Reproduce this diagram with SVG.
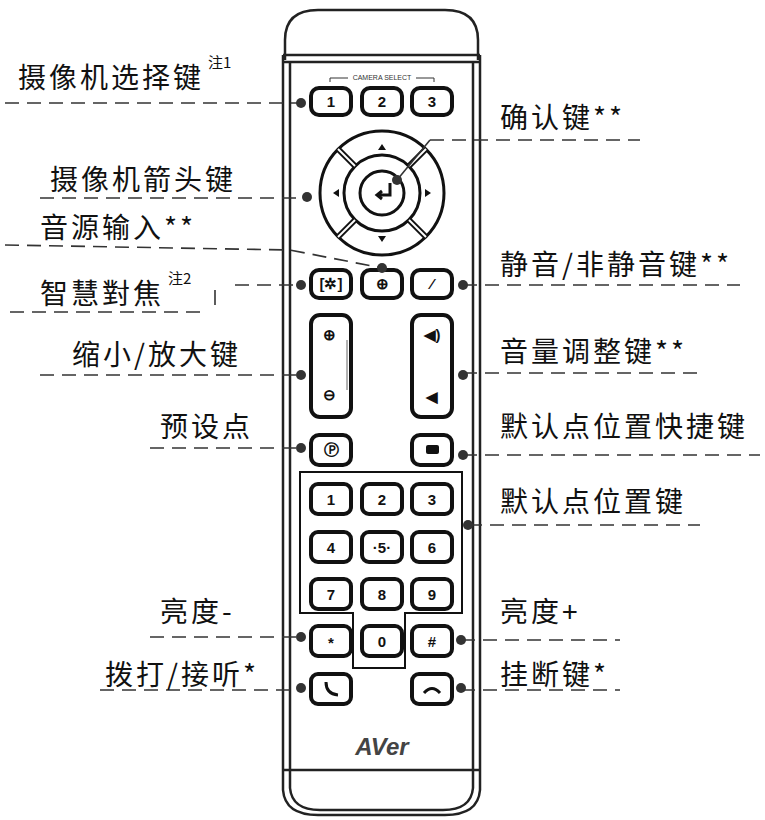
<svg xmlns="http://www.w3.org/2000/svg" width="765" height="820" viewBox="0 0 765 820">
<style>
.lb{font-family:"Noto Sans CJK SC","Noto Sans",sans-serif;font-size:28px;letter-spacing:3px;fill:#111}
.sup{font-family:"Noto Sans CJK SC","Liberation Serif",serif;font-size:15px;fill:#111}
.d{stroke:#333;stroke-width:1.6;stroke-dasharray:14 8;fill:none}
.dot{fill:#333}
.btn{fill:#fff;stroke:#111;stroke-width:4}
.bt{font-family:"Liberation Sans",sans-serif;font-size:15px;font-weight:bold;text-anchor:middle;fill:#111}
.body{fill:none;stroke:#222;stroke-width:2.5}
</style>
<rect width="765" height="820" fill="#fff"/>
<g id="remote">
<path class="body" d="M285 60 L285 40 Q285 10 318 10 L445 10 Q478 10 478 40 L478 60"/>
<path class="body" d="M283 55 L480 55 M283 62 L480 62"/>
<path class="body" d="M283 55 L283 770 M290 62 L290 770 M480 55 L480 770 M473 62 L473 770"/>
<path class="body" d="M283 770 L480 770 M283 770 L283 790 Q285 815 318 815 L445 815 Q478 815 480 790 L480 770 M290 770 L290 788 Q292 810 320 810 L443 810 Q471 810 473 788 L473 770"/>
<text x="382" y="80" font-family="Liberation Sans,sans-serif" font-size="7" text-anchor="middle" fill="#333">CAMERA SELECT</text>
<path d="M330 82 L330 78 L348 78 M416 78 L434 78 L434 82" stroke="#333" fill="none"/>
<text x="382" y="755" font-family="Liberation Sans,sans-serif" font-size="24" font-weight="bold" font-style="italic" text-anchor="middle" fill="#444">AVer</text>
</g>
<g id="buttons">
<rect class="btn" x="311" y="88" width="40" height="27" rx="8"/><text class="bt" x="331" y="107">1</text>
<rect class="btn" x="362" y="88" width="40" height="27" rx="8"/><text class="bt" x="382" y="107">2</text>
<rect class="btn" x="412" y="88" width="40" height="27" rx="8"/><text class="bt" x="432" y="107">3</text>
<circle cx="382" cy="193" r="62" fill="#fff" stroke="#111" stroke-width="3"/>
<circle cx="382" cy="193" r="38" fill="none" stroke="#111" stroke-width="3"/>
<circle cx="382" cy="193" r="22" fill="#fff" stroke="#111" stroke-width="3"/>
<g stroke="#111" stroke-width="6"><line x1="409" y1="166" x2="426" y2="149"/><line x1="355" y1="166" x2="338" y2="149"/><line x1="409" y1="220" x2="426" y2="237"/><line x1="355" y1="220" x2="338" y2="237"/></g>
<g stroke="#fff" stroke-width="2"><line x1="409" y1="166" x2="426" y2="149"/><line x1="355" y1="166" x2="338" y2="149"/><line x1="409" y1="220" x2="426" y2="237"/><line x1="355" y1="220" x2="338" y2="237"/></g>
<path d="M382 144 l-4 6 h8z M382 242 l-4 -6 h8z M333 193 l6 -4 v8z M431 193 l-6 -4 v8z" fill="#111"/>
<path d="M390 183 v12 h-12 M382 191 l-5 4 5 4" stroke="#111" stroke-width="3" fill="none"/>
<rect class="btn" x="311" y="270" width="40" height="28" rx="8"/><text class="bt" x="331" y="289" font-size="11">[✲]</text>
<rect class="btn" x="362" y="270" width="40" height="28" rx="8"/><text class="bt" x="382" y="289">⊕</text>
<rect class="btn" x="412" y="270" width="40" height="28" rx="8"/><text class="bt" x="432" y="289" font-size="12" fill="#555">⁄</text>
<rect class="btn" x="311" y="315" width="40" height="102" rx="9"/>
<text class="bt" x="329" y="340" font-size="11">⊕</text><text class="bt" x="329" y="400" font-size="11">⊖</text>
<line x1="347" y1="340" x2="347" y2="390" stroke="#666"/>
<rect class="btn" x="412" y="315" width="40" height="102" rx="9"/>
<text class="bt" x="432" y="340" font-size="11">◀)</text><text class="bt" x="432" y="402" font-size="11">◀</text>
<rect class="btn" x="311" y="435" width="40" height="30" rx="8"/><text class="bt" x="331" y="455" font-size="11" fill="#777">Ⓟ</text>
<rect class="btn" x="412" y="435" width="40" height="30" rx="8"/><rect x="426" y="445" width="13" height="9" rx="2" fill="#111"/>
<path d="M300 472 H462 V613 H405 V668 H353 V613 H300 Z" fill="none" stroke="#111" stroke-width="2"/>
<g>
<rect class="btn" x="311" y="484" width="40" height="30" rx="7"/><text class="bt" x="331" y="505">1</text>
<rect class="btn" x="362" y="484" width="40" height="30" rx="7"/><text class="bt" x="382" y="505">2</text>
<rect class="btn" x="412" y="484" width="40" height="30" rx="7"/><text class="bt" x="432" y="505">3</text>
<rect class="btn" x="311" y="532" width="40" height="30" rx="7"/><text class="bt" x="331" y="553">4</text>
<rect class="btn" x="362" y="532" width="40" height="30" rx="7"/><text class="bt" x="382" y="553">·5·</text>
<rect class="btn" x="412" y="532" width="40" height="30" rx="7"/><text class="bt" x="432" y="553">6</text>
<rect class="btn" x="311" y="579" width="40" height="30" rx="7"/><text class="bt" x="331" y="600">7</text>
<rect class="btn" x="362" y="579" width="40" height="30" rx="7"/><text class="bt" x="382" y="600">8</text>
<rect class="btn" x="412" y="579" width="40" height="30" rx="7"/><text class="bt" x="432" y="600">9</text>
<rect class="btn" x="311" y="626" width="40" height="30" rx="7"/><text class="bt" x="331" y="648">*</text>
<rect class="btn" x="362" y="626" width="40" height="30" rx="7"/><text class="bt" x="382" y="647">0</text>
<rect class="btn" x="412" y="626" width="40" height="30" rx="7"/><text class="bt" x="432" y="647">#</text>
</g>
<rect class="btn" x="311" y="674" width="40" height="30" rx="7"/><path d="M326 682 q0 12 12 13" stroke="#111" stroke-width="3" fill="none"/>
<rect class="btn" x="412" y="674" width="40" height="30" rx="7"/><path d="M424 693 q8 -9 16 0" stroke="#111" stroke-width="3" fill="none"/>
</g>
<g id="connectors">
<path class="d" d="M5 103 H300"/><circle class="dot" cx="301" cy="103" r="5"/>
<path class="d" d="M430 140 H640"/><path d="M430 140 L397 180" stroke="#333" stroke-width="1.6"/><circle class="dot" cx="397" cy="180" r="5"/>
<path class="d" d="M40 198 H305"/><circle class="dot" cx="307" cy="197" r="5"/>
<path class="d" d="M5 245 L290 250 L382 268"/><circle class="dot" cx="382" cy="268" r="5"/>
<path class="d" d="M235 285 H300"/><circle class="dot" cx="301" cy="285" r="5"/>
<path d="M215 290 V305" stroke="#333" stroke-width="1.6"/>
<path class="d" d="M10 312 H200" />
<path class="d" d="M463 285 H740"/><circle class="dot" cx="463" cy="285" r="5"/>
<path class="d" d="M40 375 H300"/><circle class="dot" cx="301" cy="375" r="5"/>
<path class="d" d="M463 373 H700"/><circle class="dot" cx="463" cy="375" r="5"/>
<path class="d" d="M150 448 H300"/><circle class="dot" cx="301" cy="448" r="5"/>
<path class="d" d="M463 455 H760"/><circle class="dot" cx="463" cy="455" r="5"/>
<path class="d" d="M468 525 H700"/><circle class="dot" cx="468" cy="525" r="5"/>
<path class="d" d="M150 637 H300"/><circle class="dot" cx="301" cy="637" r="5"/>
<path class="d" d="M461 640 H620"/><circle class="dot" cx="461" cy="640" r="5"/>
<path class="d" d="M100 690 H300"/><circle class="dot" cx="301" cy="688" r="5"/>
<path class="d" d="M461 690 H620"/><circle class="dot" cx="461" cy="688" r="5"/>
</g>
<g id="labels">
<text class="lb" x="18" y="88">摄像机选择键</text><text class="sup" x="208" y="68">注1</text>
<text class="lb" x="500" y="128">确认键**</text>
<text class="lb" x="50" y="190">摄像机箭头键</text>
<text class="lb" x="40" y="238">音源输入**</text>
<text class="lb" x="40" y="304">智慧對焦</text><text class="sup" x="168" y="284">注2</text>
<text class="lb" x="500" y="275">静音/非静音键**</text>
<text class="lb" x="72" y="365">缩小/放大键</text>
<text class="lb" x="500" y="362">音量调整键**</text>
<text class="lb" x="160" y="437">预设点</text>
<text class="lb" x="500" y="437">默认点位置快捷键</text>
<text class="lb" x="500" y="512">默认点位置键</text>
<text class="lb" x="160" y="622">亮度-</text>
<text class="lb" x="500" y="622">亮度+</text>
<text class="lb" x="105" y="685">拨打/接听*</text>
<text class="lb" x="500" y="685">挂断键*</text>
</g>
</svg>
